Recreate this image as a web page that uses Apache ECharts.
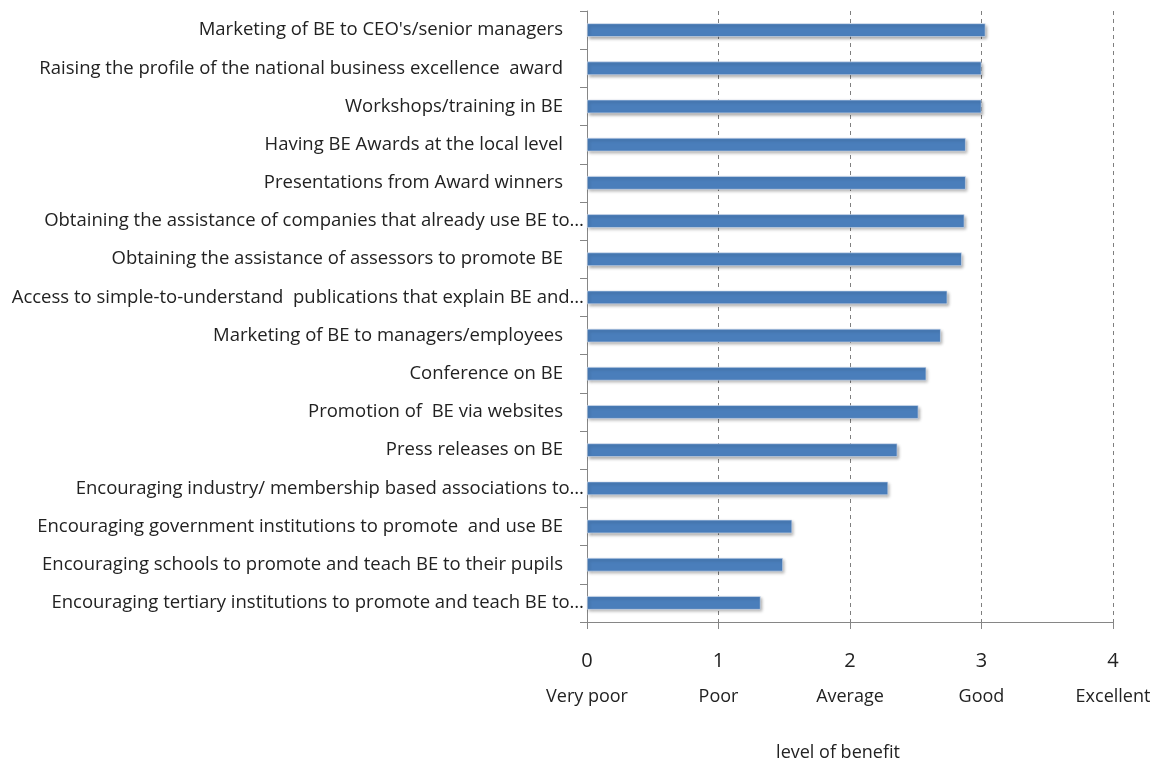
<!DOCTYPE html>
<html>
<head>
<meta charset="utf-8">
<script src="https://cdn.jsdelivr.net/npm/echarts@6/dist/echarts.min.js"></script>
<style>
  html, body { margin: 0; padding: 0; background: #ffffff; }
  #chart { width: 1159px; height: 761px; }
</style>
</head>
<body>
<div id="chart"></div>
<script>
// Initiatives, listed top to bottom
const categories = [
  "Marketing of BE to CEO's/senior managers",
  "Raising the profile of the national business excellence  award",
  "Workshops/training in BE",
  "Having BE Awards at the local level",
  "Presentations from Award winners",
  "Obtaining the assistance of companies that already use BE to…",
  "Obtaining the assistance of assessors to promote BE",
  "Access to simple-to-understand  publications that explain BE and…",
  "Marketing of BE to managers/employees",
  "Conference on BE",
  "Promotion of  BE via websites",
  "Press releases on BE",
  "Encouraging industry/ membership based associations to…",
  "Encouraging government institutions to promote  and use BE",
  "Encouraging schools to promote and teach BE to their pupils",
  "Encouraging tertiary institutions to promote and teach BE to…"
];

// Mean rated level of benefit
const benefit = [3.03, 3.00, 3.00, 2.88, 2.88, 2.87, 2.85, 2.74, 2.69, 2.58, 2.52, 2.36, 2.29, 1.56, 1.49, 1.32];

// Scale values and their verbal meaning
const scaleTicks = [0, 1, 2, 3, 4];
const scaleNames = ["Very poor", "Poor", "Average", "Good", "Excellent"];

const axisTitle = "level of benefit";

const FONT = "'Open Sans', 'Liberation Sans', sans-serif";

const chart = echarts.init(document.getElementById('chart'), null, { renderer: 'canvas' });

chart.setOption({
  backgroundColor: '#ffffff',
  animation: false,
  grid: { left: 587, right: 46, top: 11, bottom: 139, containLabel: false, outerBoundsMode: 'none' },
  xAxis: {
    type: 'value',
    min: 0,
    max: 4,
    interval: 1,
    name: axisTitle,
    nameLocation: 'middle',
    nameGap: 122,
    nameTextStyle: { fontFamily: FONT, fontSize: 18, color: '#222', padding: [0, 24, 0, 0] },
    axisLine: { show: true, lineStyle: { color: '#868686', width: 1 } },
    axisTick: { show: true, length: 7, lineStyle: { color: '#868686' } },
    splitLine: { show: true, lineStyle: { color: '#7f7f7f', type: [4, 4], width: 1 } },
    axisLabel: {
      margin: 22,
      formatter: function (v) {
        const i = scaleTicks.indexOf(v);
        return '{n|' + v + '}\n{w|' + (i >= 0 ? scaleNames[i] : '') + '}';
      },
      rich: {
        n: { fontFamily: FONT, fontSize: 20, color: '#222', lineHeight: 35, align: 'center' },
        w: { fontFamily: FONT, fontSize: 18, color: '#222', lineHeight: 35, align: 'center' }
      }
    }
  },
  yAxis: {
    type: 'category',
    data: categories,
    inverse: true,
    axisLine: { show: true, lineStyle: { color: '#868686', width: 1 } },
    axisTick: { show: true, length: 7, lineStyle: { color: '#868686' } },
    splitLine: { show: false },
    axisLabel: {
      margin: 3,
      formatter: function (v) {
        return v.endsWith('…') ? '{t|' + v + '}' : '{n|' + v + '}';
      },
      rich: {
        n: { fontFamily: FONT, fontSize: 18.5, color: '#222', padding: [0, 21, 0, 0] },
        t: { fontFamily: FONT, fontSize: 18.5, color: '#222' }
      }
    }
  },
  series: [{
    type: 'bar',
    data: benefit,
    barWidth: 13.5,
    itemStyle: {
      color: '#4a7ebb',
      borderColor: '#d6e1f0',
      borderWidth: 0.6,
      shadowColor: 'rgba(0,0,0,0.35)',
      shadowBlur: 3,
      shadowOffsetX: 1.5,
      shadowOffsetY: 2
    }
  }]
});
</script>
</body>
</html>
